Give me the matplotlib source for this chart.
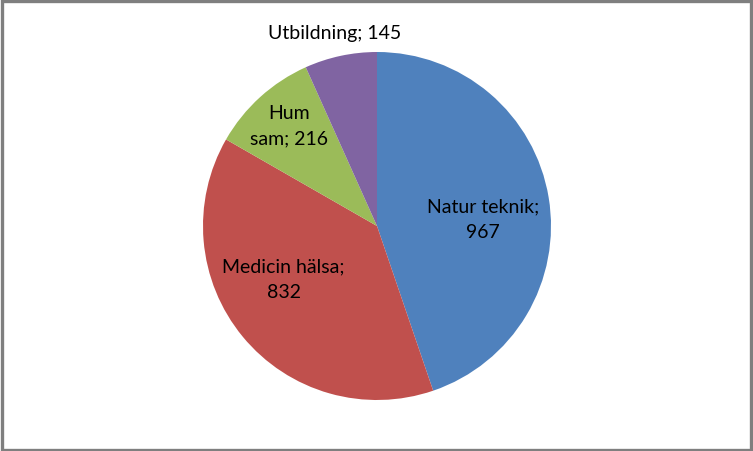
import numpy as np
import matplotlib
matplotlib.use('Agg')
import matplotlib.pyplot as plt
from matplotlib.patches import Rectangle

# data
categories = ['Natur teknik', 'Medicin hälsa', 'Hum sam', 'Utbildning']
values = [967, 832, 216, 145]
colors = ['#4F81BD', '#C0504D', '#9BBB59', '#8064A2']

plt.rcParams['font.family'] = ['Lato', 'DejaVu Sans']

fig = plt.figure(figsize=(7.53, 4.51), dpi=100)
ax = fig.add_axes([0, 0, 1, 1])
ax.axis('off')

cx, cy, R = 377, 225, 174
labels = [f'Natur teknik;\n{values[0]}',
          f'Medicin hälsa;\n{values[1]}',
          f'Hum\nsam; {values[2]}',
          f'Utbildning; {values[3]}']

wedges, texts = ax.pie(values, colors=colors, startangle=90, counterclock=False,
                       center=(cx, cy), radius=R, labels=labels,
                       wedgeprops=dict(linewidth=0),
                       textprops=dict(fontsize=14, color='black'))

# label placement (radius fraction, angle in degrees)
label_pos = [(0.61, 3.5), (0.62, -150), (0.765, 131.3), (1.13, 102.3)]
for t, (rf, ang) in zip(texts, label_pos):
    a = np.deg2rad(ang)
    t.set_position((cx + rf * R * np.cos(a), cy + rf * R * np.sin(a)))
    t.set_ha('center')
    t.set_va('center')
    t.set_multialignment('center')
    t.set_linespacing(1.6)

ax.set_aspect('equal')
ax.set_xlim(0, 753)
ax.set_ylim(0, 451)

fig.patches.append(Rectangle((0.002, 0.003), 0.995, 0.994, transform=fig.transFigure,
                             fill=False, edgecolor='#7f7f7f', linewidth=2.4))

fig.savefig('out.png', dpi=100)
